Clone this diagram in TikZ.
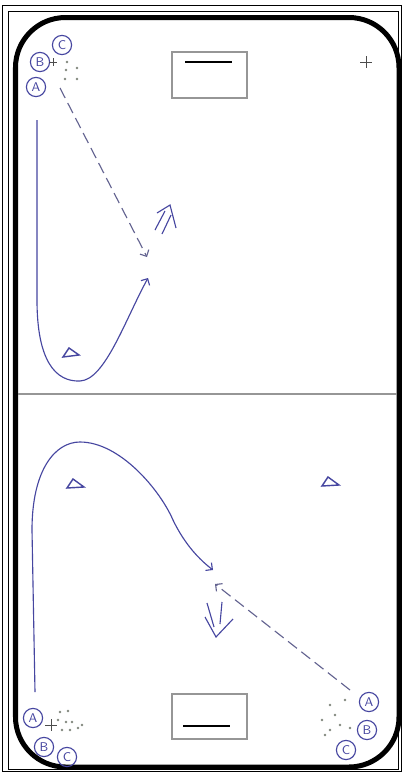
\documentclass[tikz,border=0pt]{standalone}
\usepackage{tikz}
\usetikzlibrary{arrows.meta}
\definecolor{ink}{RGB}{70,70,160}
\definecolor{boardgray}{RGB}{150,150,150}
\definecolor{puckgray}{RGB}{130,135,125}

\begin{document}
\begin{tikzpicture}[x=0.025cm, y=-0.025cm, line width=0.6pt,
  player/.style={circle, draw=ink, text=ink, line width=0.8pt, inner sep=0pt, minimum size=0.48cm, font=\small\sffamily},
  skate/.style={ink, line width=0.8pt, -{Straight Barb[length=3.5pt, width=7pt]}},
  pass/.style={ink!50!gray, line width=0.8pt, dash pattern=on 8pt off 4pt, -{Straight Barb[length=3.5pt, width=7pt]}}]
            \useasboundingbox (0,0) rectangle (403,772);
            \fill[white] (0,0) rectangle (403,772);

            % Frame
            \draw[line width=0.5pt] (2,5.5) rectangle (401.5,771);
            \draw[line width=0.5pt] (8,11) rectangle (398,769);

            % Rink
            \draw[line width=0.125cm, rounded corners=1.25cm] (15.5,17.5) rectangle (399,767);
            \draw[boardgray, line width=0.05cm] (18,394) -- (397,394);

            % Goals
            \draw[boardgray, line width=0.05cm] (172,52) rectangle (247,98);
            \draw[line width=0.04cm] (185,62) -- (232,62);
            \draw[boardgray, line width=0.05cm] (172,694) rectangle (247,739);
            \draw[line width=0.04cm] (183,726) -- (230,726);

            % Faceoff marks
            \draw[black!70] (366,56) -- (366,68) (360,62) -- (372,62);

            % Players, top half
            \node[player] (topC) at (62,45) {C};
            \node[player] (topB) at (40,62) {B};
            \node[player] (topA) at (36,87) {A};
            \draw[black!70] (49,62) -- (57,62) (53,58) -- (53,66);
            \foreach \p in {(67,62),(66,70),(77,68),(65,79),(77,79)}
              \fill[puckgray] \p circle (1.3);

            % Players, bottom half
            \node[player] (botLA) at (33,718) {A};
            \node[player] (botLB) at (44,747) {B};
            \node[player] (botLC) at (67,757) {C};
            \draw[black!70] (45,725) -- (57,725) (51,719) -- (51,731);
            \foreach \p in {(60,712),(68,711),(58,720),(66,722),(72,722),(62,730),(70,730),(78,728),(82,725)}
              \fill[puckgray] \p circle (1.3);
            \node[player] (botRA) at (369,702) {A};
            \node[player] (botRB) at (367,730) {B};
            \node[player] (botRC) at (346,750) {C};
            \foreach \p in {(330,705),(345,700),(335,715),(322,720),(340,725),(330,730),(350,728),(325,735)}
              \fill[puckgray] \p circle (1.3);

            % Cones
            \draw[ink, line width=1pt] (63,357) -- (69,348) -- (79,355) -- cycle;
            \draw[ink, line width=1pt] (67,488) -- (73,479) -- (84,487) -- cycle;
            \draw[ink, line width=1pt] (322,486) -- (328,477) -- (339,485) -- cycle;

            % Top drill
            \coordinate (passOut) at (60,88);
            \coordinate (passIn) at (147,257);
            \coordinate (skateOut) at (37,120);
            \coordinate (skateIn) at (148,278);
            \draw[pass] (passOut) -- (passIn);
            \draw[skate] (skateOut) -- (37,300) .. controls (37,360) and (55,382) .. (80,381)
              .. controls (105,380) and (125,320) .. (skateIn);
            % shot
            \draw[ink, line width=0.8pt] (155,230) -- (165,211) (162,234) -- (171,215);
            \draw[ink, line width=0.8pt] (157,213) -- (170,205) -- (176,228);

            % Bottom drill
            \coordinate (skate2Out) at (35,692);
            \coordinate (skate2In) at (213,570);
            \coordinate (pass2Out) at (350,690);
            \coordinate (pass2In) at (215,584);
            \draw[skate] (skate2Out) -- (32,530) .. controls (32,470) and (55,442) .. (80,442)
              .. controls (120,442) and (160,490) .. (173,520)
              .. controls (185,545) and (200,560) .. (skate2In);
            \draw[pass] (pass2Out) -- (pass2In);
            % shot
            \draw[ink, line width=0.8pt] (207,603) -- (214,627) (222,602) -- (220,624);
            \draw[ink, line width=0.8pt] (205,617) -- (216,637) -- (233,619);

        \end{tikzpicture}
\end{document}
